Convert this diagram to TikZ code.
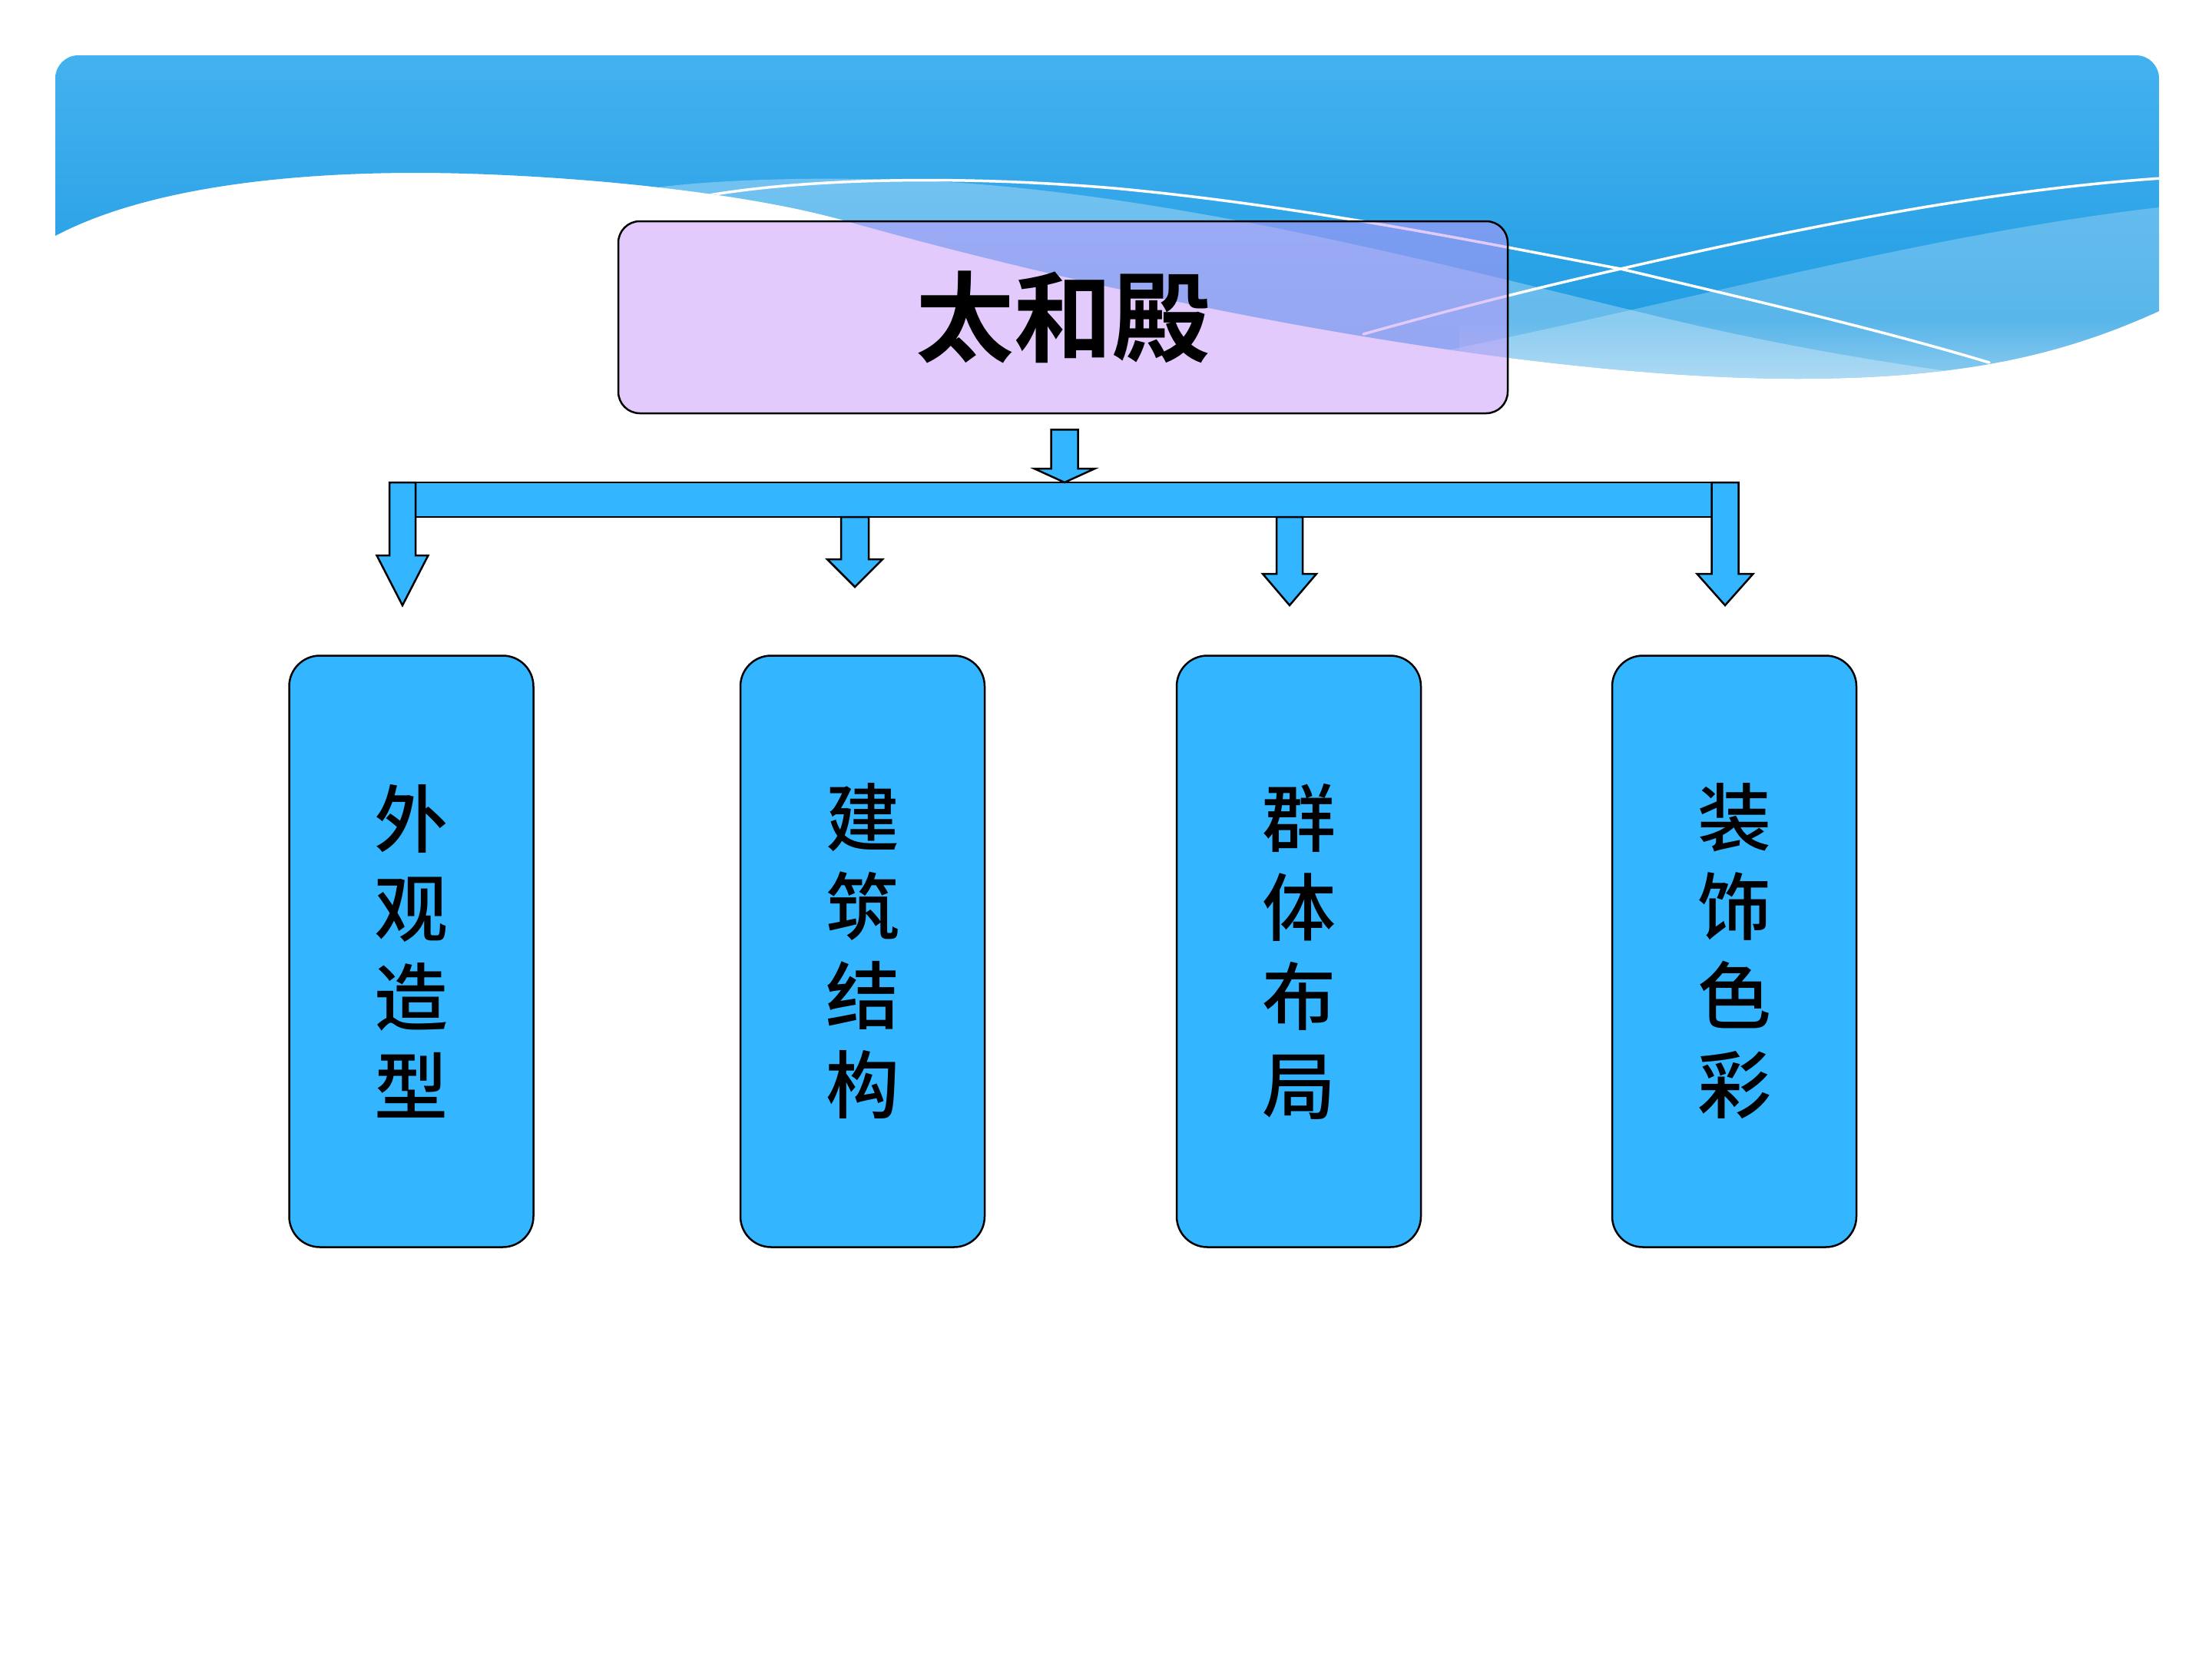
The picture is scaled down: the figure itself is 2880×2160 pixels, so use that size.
\documentclass[tikz,border=0pt]{standalone}
\usepackage{fontspec}
\newfontfamily\cjk{Noto Sans CJK SC Medium}
\newfontfamily\cjkb{Noto Sans CJK SC Bold}
\usetikzlibrary{calc,fadings}
\definecolor{hdtop}{RGB}{70,178,240}
\definecolor{hdbot}{RGB}{24,152,224}
\definecolor{lav}{RGB}{200,150,250}
\definecolor{skyfill}{RGB}{51,181,255}
% down block arrow: #1 top-centre coordinate, #2 tip coordinate,
% #3 shaft half width, #4 head half width, #5 head length
\newcommand{\blkdown}[5]{%
  \draw[blockarrow] let \p1=(#1), \p2=(#2) in
    (\x1-#3,\y1) -- (\x1+#3,\y1) -- (\x1+#3,\y2+#5) -- (\x1+#4,\y2+#5)
    -- (\x1,\y2) -- (\x1-#4,\y2+#5) -- (\x1-#3,\y2+#5) -- cycle;}
\begin{document}
\begin{tikzpicture}[x=1pt,y=-1pt,
  blockarrow/.style={fill=skyfill,draw=black,line width=2.5pt,line join=miter},
  leaf/.style={draw=black,line width=2.5pt,fill=skyfill,rounded corners=40pt,
    minimum width=318pt,minimum height=770pt,inner sep=0pt,align=center,
    font=\cjk\fontsize{96}{116}\selectfont},
  titlebox/.style={draw=black,line width=2.5pt,fill=lav,fill opacity=0.5,
    text opacity=1,rounded corners=28pt,minimum width=1158pt,minimum height=250pt,
    inner sep=0pt,font=\cjkb\fontsize{128}{150}\selectfont},
  wline/.style={white,line width=3.5pt,line cap=round}]
\useasboundingbox (0,0) rectangle (2880,2160);
\fill[white] (0,0) rectangle (2880,2160);

% ---------- header band ----------
\begin{scope}
\clip (72,307) -- (72,102) arc(180:270:30) -- (2781,72) arc(270:360:30) -- (2811,405)
  .. controls (2690,460) and (2560,493) .. (2340,493)
  .. controls (2000,493) and (1500,400) .. (1099,287)
  .. controls (950,245) and (700,225) .. (542,225)
  .. controls (350,225) and (180,250) .. (72,307) -- cycle;
\shade[top color=hdtop,bottom color=hdbot] (0,60) rectangle (2880,520);
\fill[white,opacity=0.3] (840,246) .. controls (950,230) and (1150,228) .. (1300,242)
  .. controls (1600,270) and (1900,350) .. (2150,410)
  .. controls (2350,458) and (2500,480) .. (2700,505)
  -- (2700,700) -- (840,700) -- cycle;
\fill[white,opacity=0.25] (1700,490) .. controls (1950,450) and (2250,370) .. (2518,317)
  .. controls (2650,291) and (2760,275) .. (2830,268) -- (2830,700) -- (1700,700) -- cycle;
\fill[white,opacity=0.35,path fading=north] (1900,415) rectangle (2830,500);
\draw[wline] (918,255) .. controls (1050,232) and (1250,228) .. (1450,245)
  .. controls (1700,268) and (1950,320) .. (2110,350)
  .. controls (2300,395) and (2450,430) .. (2590,472);
\draw[wline] (1775,435) .. controls (1900,400) and (2000,375) .. (2110,350)
  .. controls (2350,295) and (2600,245) .. (2830,231);
\end{scope}

% ---------- nodes ----------
\node[titlebox] (title) at (1384,413) {太和殿};
\node[leaf] (b1) at (535.5,1238.5) {外\\观\\造\\型};
\node[leaf] (b2) at (1123,1238.5) {建\\筑\\结\\构};
\node[leaf] (b3) at (1691,1238.5) {群\\体\\布\\局};
\node[leaf] (b4) at (2258,1238.5) {装\\饰\\色\\彩};

% ---------- connectors ----------
\coordinate (a0) at ($(title.south)+(2,20)$);
\coordinate (a0t) at (1386,628);
\coordinate (barNW) at (507,628);
\coordinate (barSE) at (2264,673);
\coordinate (a1) at (524,628);   \coordinate (a1t) at (524,788);
\coordinate (a2) at (1113,673);  \coordinate (a2t) at (1113,764);
\coordinate (a3) at (1679,673);  \coordinate (a3t) at (1679,788);
\coordinate (a4) at (2246,628);  \coordinate (a4t) at (2246,788);

\draw[blockarrow] (barNW) rectangle (barSE);
\blkdown{a1}{a1t}{17pt}{33.5pt}{65pt}
\blkdown{a2}{a2t}{18pt}{36pt}{36pt}
\blkdown{a3}{a3t}{17pt}{35pt}{41pt}
\blkdown{a4}{a4t}{17.5pt}{36.5pt}{41pt}
\blkdown{a0}{a0t}{17.5pt}{39.5pt}{18pt}
\end{tikzpicture}
\end{document}
